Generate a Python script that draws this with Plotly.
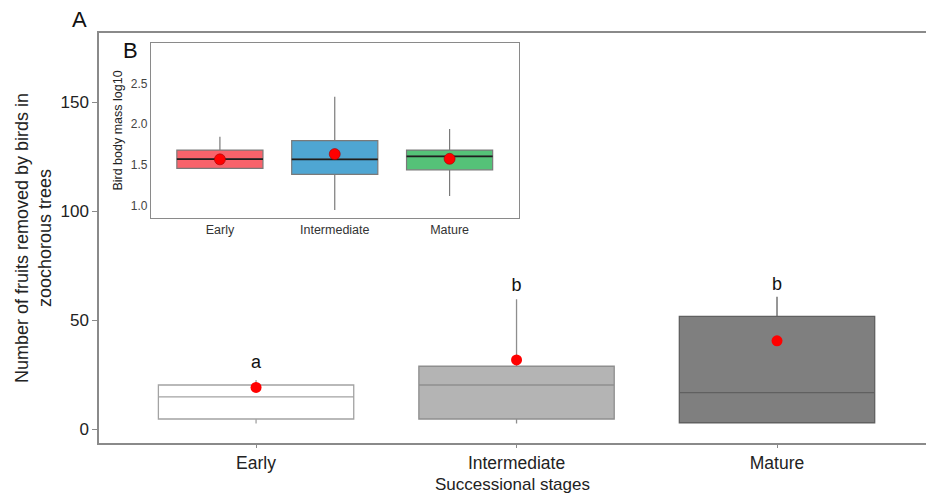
import plotly.graph_objects as go

# ---- Main panel (A) data ----
stages = ["Early", "Intermediate", "Mature"]
fr_q1 = [4.6, 4.6, 2.9]
fr_median = [14.8, 20.2, 16.7]
fr_q3 = [20.2, 28.8, 51.7]
fr_low = [2.6, 2.6, 2.5]
fr_high = [22.5, 59.6, 60.7]
fr_mean = [19.1, 31.7, 40.5]
fr_letters = ["a", "b", "b"]
fr_letter_y = [30.3, 65.3, 66.0]
fr_fill = ["#ffffff", "#b4b4b4", "#7f7f7f"]
fr_line = ["#a3a3a3", "#8e8e8e", "#606060"]

# ---- Inset panel (B) data ----
bm_q1 = [1.458, 1.385, 1.441]
bm_median = [1.572, 1.569, 1.605]
bm_q3 = [1.683, 1.800, 1.683]
bm_low = [1.458, 0.947, 1.119]
bm_high = [1.846, 2.336, 1.940]
bm_mean = [1.569, 1.634, 1.576]
bm_fill = ["#f8636b", "#4fa6d3", "#55c278"]

W, H = 926, 501
L, R, T, B = 99, 0, 33, 58
PW, PH = W - L - R, H - T - B

def px_x(x):
    return (x - L) / PW

def px_y(y):
    return (H - B - y) / PH

fig = go.Figure()

# main boxes
for i, s in enumerate(stages):
    fig.add_trace(go.Box(
        x=[s], q1=[fr_q1[i]], median=[fr_median[i]], q3=[fr_q3[i]],
        lowerfence=[fr_low[i]], upperfence=[fr_high[i]],
        fillcolor=fr_fill[i], line=dict(color=fr_line[i], width=1.3),
        width=0.75, whiskerwidth=0, boxpoints=False, showlegend=False,
        hoverinfo="skip", xaxis="x", yaxis="y"))
fig.add_trace(go.Scatter(
    x=stages, y=fr_mean, mode="markers",
    marker=dict(color="#ff0000", size=11, line=dict(width=0)),
    showlegend=False, xaxis="x", yaxis="y"))
fig.add_trace(go.Scatter(
    x=stages, y=fr_letter_y, mode="text", text=fr_letters,
    textfont=dict(family="Liberation Sans, Arial", size=18, color="#111"),
    textposition="middle center", showlegend=False, xaxis="x", yaxis="y"))

# inset boxes
for i, s in enumerate(stages):
    fig.add_trace(go.Box(
        x=[s], q1=[bm_q1[i]], median=[bm_median[i]], q3=[bm_q3[i]],
        lowerfence=[bm_low[i]], upperfence=[bm_high[i]],
        fillcolor=bm_fill[i], line=dict(color="#7a7a7a", width=1.2),
        width=0.75, whiskerwidth=0, boxpoints=False, showlegend=False,
        hoverinfo="skip", xaxis="x2", yaxis="y2"))
    # dark median line (degenerate box at the median)
    fig.add_trace(go.Box(
        x=[s], q1=[bm_median[i]], median=[bm_median[i]], q3=[bm_median[i]],
        lowerfence=[bm_median[i]], upperfence=[bm_median[i]],
        fillcolor="rgba(0,0,0,0)", line=dict(color="#1e1e1e", width=1.8),
        width=0.75, whiskerwidth=0, boxpoints=False, showlegend=False,
        hoverinfo="skip", xaxis="x2", yaxis="y2"))
fig.add_trace(go.Scatter(
    x=stages, y=bm_mean, mode="markers",
    marker=dict(color="#ff0000", size=11, line=dict(width=0.6, color="#a00000")),
    showlegend=False, xaxis="x2", yaxis="y2"))

font = "Liberation Sans, Arial, sans-serif"
axcol = "#8a8a8a"

fig.update_layout(
    width=W, height=H,
    margin=dict(l=L, r=R, t=T, b=B),
    paper_bgcolor="white", plot_bgcolor="white",
    boxmode="overlay",
    font=dict(family=font, color="#222"),
    xaxis=dict(
        domain=[0, 1], type="category", categoryorder="array", categoryarray=stages,
        range=[-0.603, 2.572], showline=True, linecolor=axcol, linewidth=1.5,
        mirror=True, ticks="outside", ticklen=3, tickcolor=axcol,
        showgrid=False, zeroline=False,
        tickfont=dict(size=17.5, color="#222"),
        title=dict(text="Successional stages", font=dict(size=17, color="#222"), standoff=6)),
    yaxis=dict(
        domain=[0, 1], range=[-6.4, 181.7], tickvals=[0, 50, 100, 150],
        showline=True, linecolor=axcol, linewidth=1.5, mirror=False,
        ticks="outside", ticklen=5, tickcolor=axcol, showgrid=False, zeroline=False,
        tickfont=dict(size=17, color="#222")),
    xaxis2=dict(
        domain=[px_x(151), px_x(518.5)], anchor="y2", type="category",
        categoryorder="array", categoryarray=stages,
        range=[-0.6, 2.6], showline=True, linecolor=axcol, linewidth=1.3, mirror=True,
        ticks="", showgrid=False, zeroline=False,
        tickfont=dict(size=12.5, color="#333")),
    yaxis2=dict(
        domain=[px_y(218.3), px_y(42.7)], anchor="x2", range=[0.846, 3.0],
        tickvals=[1.0, 1.5, 2.0, 2.5], ticktext=["1.0", "1.5", "2.0", "2.5"],
        showline=True, linecolor=axcol, linewidth=1.3, mirror=True,
        ticks="", showgrid=False, zeroline=False,
        tickfont=dict(size=12, color="#444444"),
        title=dict(text="Bird body mass log10", font=dict(size=12.5, color="#222"), standoff=5)),
    annotations=[
        dict(text="A", xref="paper", yref="paper", x=px_x(79), y=px_y(20),
             showarrow=False, font=dict(size=22, color="#111"), xanchor="center", yanchor="middle"),
        dict(text="B", xref="paper", yref="paper", x=px_x(130), y=px_y(50),
             showarrow=False, font=dict(size=22, color="#111"), xanchor="center", yanchor="middle"),
        dict(text="Number of fruits removed by birds in<br>zoochorous trees",
             xref="paper", yref="paper", x=px_x(33), y=px_y(238), textangle=-90,
             showarrow=False, font=dict(size=18, color="#222"), xanchor="center", yanchor="middle"),
    ],
)

fig.write_html("out.html")
